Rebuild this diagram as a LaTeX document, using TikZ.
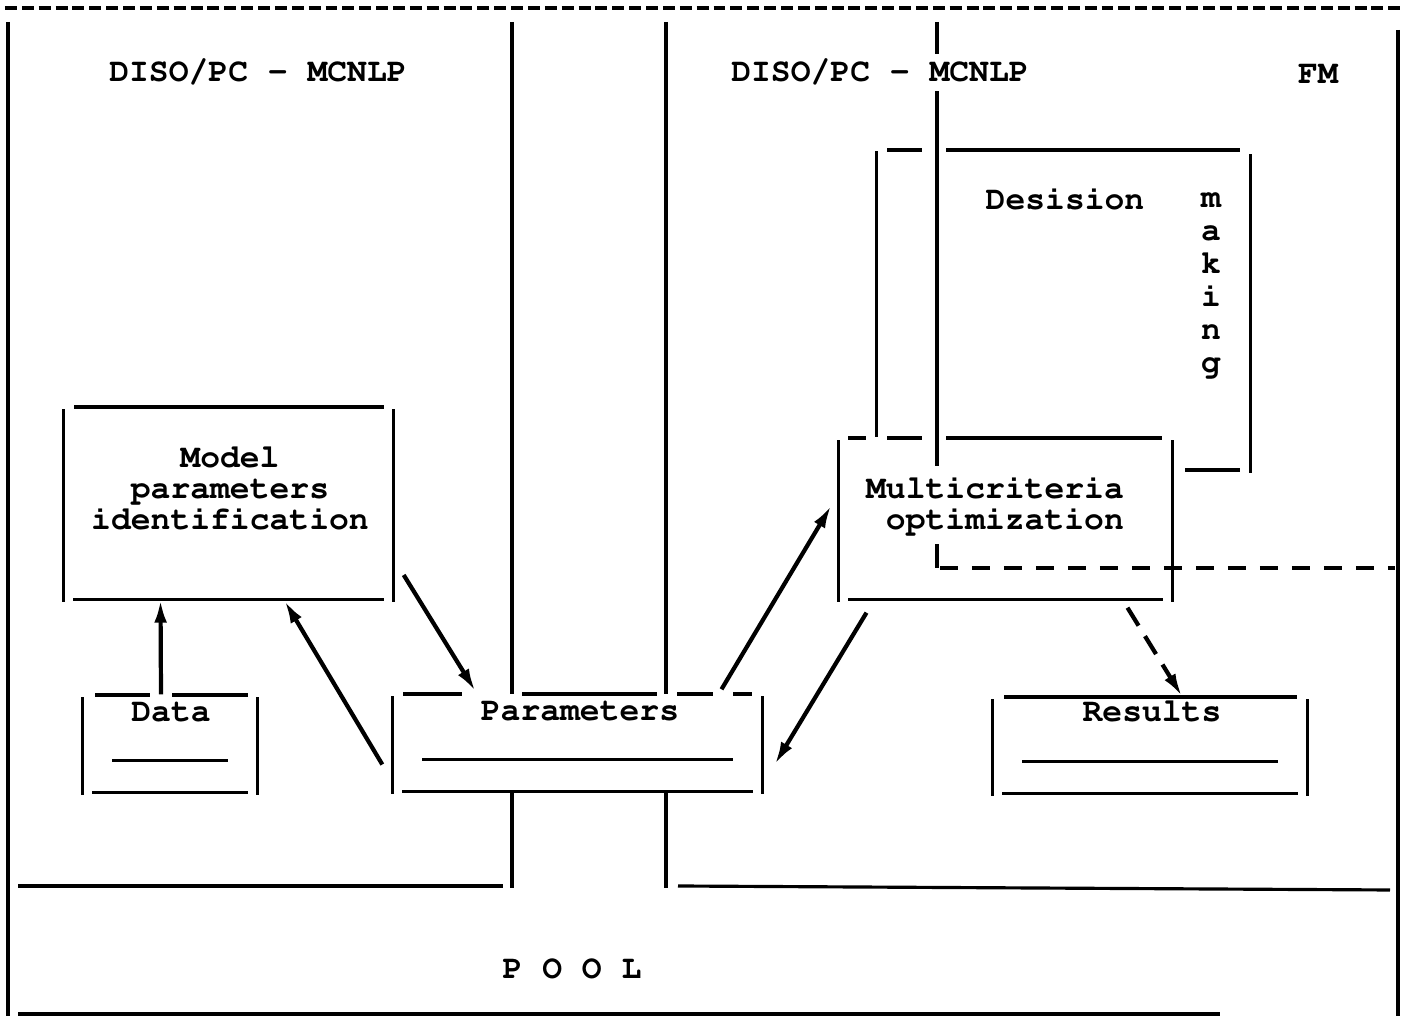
\documentclass[tikz,border=0pt]{standalone}
\usepackage[T1]{fontenc}
\renewcommand{\ttdefault}{pcr}
\usetikzlibrary{positioning,calc,arrows.meta,backgrounds}
\tikzset{
  ln/.style={line width=0.9pt},
  txt/.style={font=\ttfamily\bfseries\fontsize{9.4}{8.8}\selectfont,inner sep=0pt,align=center},
  vtxt/.style={font=\ttfamily\bfseries\fontsize{9.4}{9.4}\selectfont,inner sep=0pt,align=center},
  frame/.style={draw=none,inner sep=0pt},
  arr/.style={line width=1.2pt,-{Latex[length=6.5pt,width=3.6pt]}},
  dasharr/.style={arr,dash pattern=on 6pt off 3.5pt},
}
\newcommand{\boxsides}[1]{%
  \draw[ln] ($(#1.north west)+(0,3)$) -- ($(#1.south west)+(0,2)$);
  \draw[ln] ($(#1.north east)+(0,3)$) -- ($(#1.south east)+(0,2)$);
  \draw[ln] ($(#1.south west)+(10,0)$) -- ($(#1.south east)+(-10,0)$);}
\newcommand{\storeline}[1]{%
  \draw[ln] ($(#1.south west)+(30,-32)$) -- ($(#1.south east)+(-30,-32)$);}

\begin{document}
\begin{tikzpicture}[x=0.1mm,y=-0.1mm]
  \useasboundingbox (0,0) rectangle (1409,1016);
  % box frames
  \node[frame,minimum width=32.9mm,minimum height=19.2mm] (model) at (228.5,503) {};
  \node[frame,minimum width=17.4mm,minimum height=9.7mm] (data) at (170,743.5) {};
  \node[frame,minimum width=36.9mm,minimum height=9.7mm] (param) at (577.5,742.5) {};
  \node[frame,minimum width=31.4mm,minimum height=9.6mm] (result) at (1150,745) {};
  \node[frame,minimum width=33.3mm,minimum height=16.1mm] (multi) at (1005.5,518.5) {};
  \node[frame,minimum width=37.3mm,minimum height=32mm] (decide) at (1063.5,310) {};
  \coordinate (fmtop) at (937,22);
  \coordinate (fmcorner) at (937,568);
  \coordinate (fmend) at (1395,568);

  % outer frame, channel and pool
  \draw[ln,line width=1.2pt,dash pattern=on 3.4pt off 1.4pt] (5,8) -- (1400,8);
  \draw[ln] (8,22) -- (8,1016);
  \draw[ln] (1398,30) -- (1398,1016);
  \foreach \x in {512,666} {
    \draw[ln] (\x,22) -- (\x,694);
    \draw[ln] (\x,792) -- (\x,888);
  }
  \draw[ln] (18,886) -- (503,886);
  \draw[ln] (678,886) -- (1390,890);
  \draw[ln] (18,1014) -- (1220,1014);
  \begin{scope}[on background layer]
    \draw[ln] (fmtop) -- (fmcorner);
  \end{scope}
  \draw[ln,dash pattern=on 5.1pt off 4pt] ($(fmcorner)+(3,0)$) -- (fmend);

  % boxes
  \foreach \b in {model,data,param,result,multi} \boxsides{\b}
  \foreach \b in {data,param,result} \storeline{\b}
  \foreach \a/\c/\y in {74/384/407, 95/150/695, 172/248/695,
      403/462/694, 522/657/694, 677/713/694, 733/752/694,
      1004/1297/697, 848/866/438, 887/922/438, 946/1162/438,
      887/922/150, 946/1240/150, 1185/1240/470}
    \draw[ln] (\a,\y) -- (\c,\y);
  \draw[ln] ($(decide.north west)+(0,2)$) -- (multi.north -| decide.west);
  \draw[ln] ($(decide.north east)+(0,5)$) -- ($(decide.south east)+(0,2)$);

  % texts
  \node[txt,anchor=base] (left) at (258,82) {DISO/PC - MCNLP};
  \node[txt,anchor=base,fill=white,inner ysep=2pt] (right) at (880,82) {DISO/PC - MCNLP};
  \node[txt,anchor=base] (fm) at (1318,84) {FM};
  \node[txt,anchor=base] (desision) at (1065,210) {Desision};
  \node[vtxt] (making) at (1211,285) {m\\a\\k\\i\\n\\g};
  \node[txt] (modeltxt) at (230,488) {Model\\parameters\\identification};
  \node[txt,align=right,fill=white,inner ysep=3pt] (multitxt) at (995,505) {Multicriteria\\optimization};
  \node[txt,anchor=base] (datatxt) at (171,722) {Data};
  \node[txt,anchor=base] (paramtxt) at (580,721) {Parameters};
  \node[txt,anchor=base] (resulttxt) at (1152,722) {Results};
  \node[txt,anchor=base] (pool) at (572,979) {P O O L};

  % flows
  \draw[arr] ($(data.north)+(-9,0)$) -- ($(model.south)+(-68,0)$);
  \draw[arr] ($(param.west)+(-10,22)$) -- ($(model.south)+(56,1)$);
  \draw[arr] ($(model.east)+(10,72)$) -- ($(param.north)+(-102,-2)$);
  \draw[arr] ($(param.north)+(144,-4)$) -- ($(multi.west)+(-7,-13)$);
  \draw[arr] ($(multi.south)+(-139,13)$) -- ($(param.east)+(12,22)$);
  \draw[dasharr] ($(multi.south)+(122,8)$) -- ($(result.north)+(32,0)$);
\end{tikzpicture}
\end{document}
